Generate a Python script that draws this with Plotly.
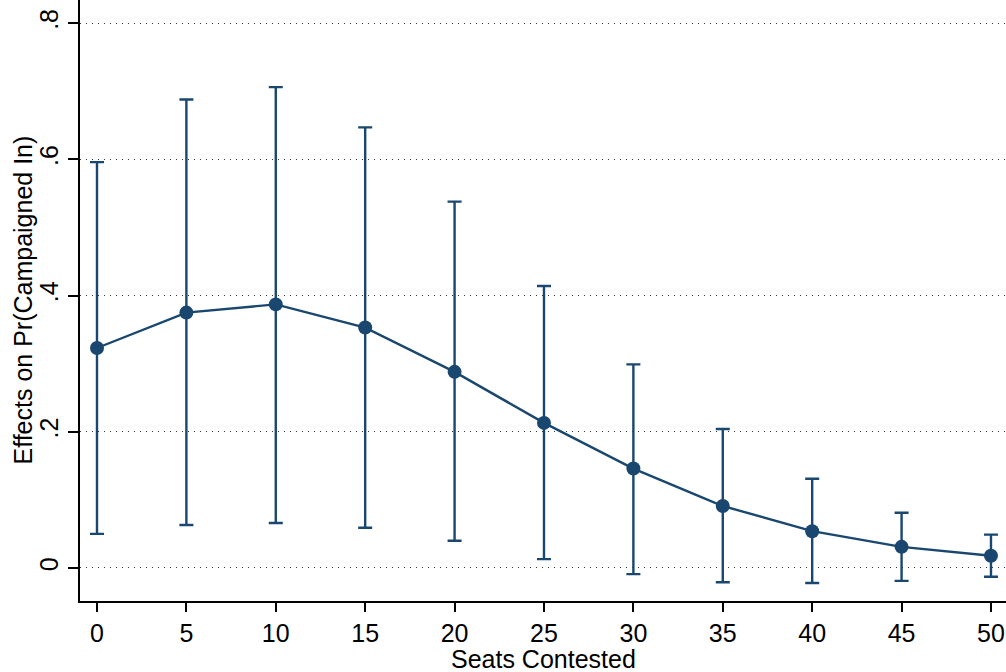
import plotly.graph_objects as go

# Marginal effect of seats contested on Pr(Campaigned In), with 95% CIs
seats = [0, 5, 10, 15, 20, 25, 30, 35, 40, 45, 50]
effect = [0.323, 0.375, 0.387, 0.353, 0.288, 0.213, 0.146, 0.091, 0.054, 0.031, 0.018]
upper = [0.596, 0.688, 0.706, 0.647, 0.538, 0.414, 0.299, 0.204, 0.131, 0.081, 0.049]
lower = [0.050, 0.063, 0.066, 0.059, 0.040, 0.013, -0.009, -0.021, -0.022, -0.019, -0.013]

y_ticks = [0, 0.2, 0.4, 0.6, 0.8]
y_tick_text = ["0", ".2", ".4", ".6", ".8"]
x_ticks = seats

navy = "#1a476f"
font_family = "Liberation Sans, Arial, Helvetica, sans-serif"

err_plus = [u - e for u, e in zip(upper, effect)]
err_minus = [e - l for e, l in zip(effect, lower)]

fig = go.Figure()
fig.add_trace(go.Scatter(
    x=seats,
    y=effect,
    mode="lines+markers",
    line=dict(color=navy, width=2.4),
    marker=dict(color=navy, size=14),
    error_y=dict(
        type="data",
        symmetric=False,
        array=err_plus,
        arrayminus=err_minus,
        color=navy,
        thickness=2.4,
        width=7,
    ),
    showlegend=False,
))

fig.update_layout(
    width=1006,
    height=672,
    margin=dict(l=80, r=0, t=0, b=71),
    paper_bgcolor="white",
    plot_bgcolor="white",
    font=dict(family=font_family, size=25, color="black"),
    xaxis=dict(
        range=[-0.95, 50.84],
        tickvals=x_ticks,
        ticks="outside",
        ticklen=9,
        tickwidth=1.5,
        tickcolor="black",
        showline=True,
        linecolor="black",
        linewidth=1.5,
        showgrid=False,
        zeroline=False,
        tickfont=dict(size=25),
    ),
    yaxis=dict(
        range=[-0.0485, 0.834],
        tickvals=y_ticks,
        ticktext=y_tick_text,
        tickangle=-90,
        ticks="outside",
        ticklen=10,
        tickwidth=1.5,
        tickcolor="black",
        showline=True,
        linecolor="black",
        linewidth=1.5,
        showgrid=True,
        gridcolor="#333333",
        gridwidth=1,
        griddash="1px,5px",
        zeroline=False,
        tickfont=dict(size=25),
    ),
    annotations=[
        dict(
            text="Seats Contested",
            xref="paper", yref="paper",
            x=0.5, y=-0.097,
            xanchor="center", yanchor="middle",
            showarrow=False,
            font=dict(size=25),
        ),
        dict(
            text="Effects on Pr(Campaigned In)",
            xref="paper", yref="paper",
            x=-0.0626, y=0.5,
            xanchor="center", yanchor="middle",
            textangle=-90,
            showarrow=False,
            font=dict(size=25),
        ),
    ],
)

fig.write_html("out.html")
